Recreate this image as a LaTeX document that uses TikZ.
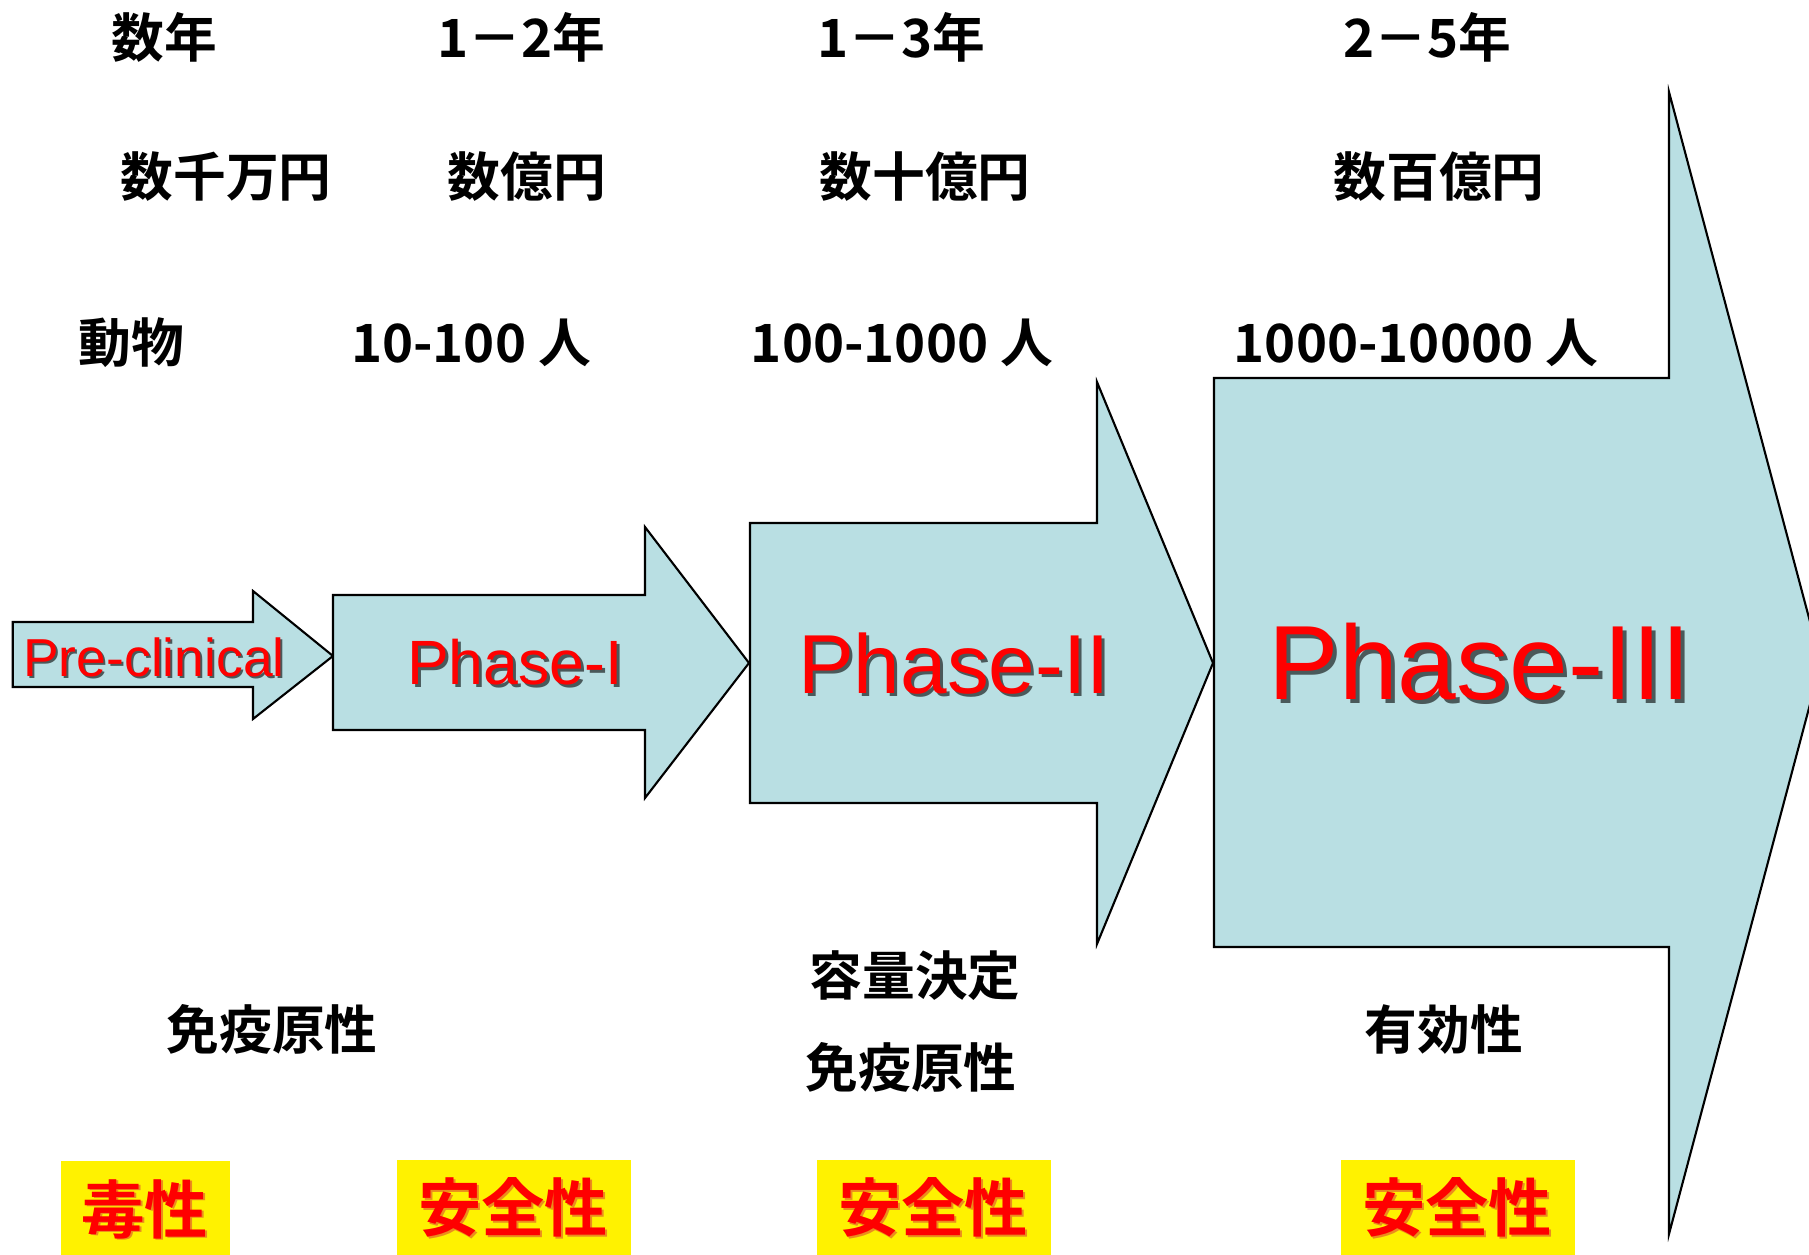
\documentclass[tikz,border=0pt]{standalone}
\usepackage{fontspec}
\newfontfamily\jp{Noto Sans CJK JP}[BoldFont={Noto Sans CJK JP Bold}]
\newfontfamily\lsans{Liberation Sans}
\definecolor{arrfill}{RGB}{185,223,227}
\definecolor{shorange}{RGB}{235,140,30}
\begin{document}
\begin{tikzpicture}[x=0.01cm,y=-0.01cm,
  arr/.style={fill=arrfill,draw=black,line width=0.6pt,line join=miter},
  bt/.style={inner sep=0pt,font=\jp\bfseries\fontsize{15}{18}\selectfont},
  ph/.style={inner sep=0pt,text=red,font=\lsans\fontsize{#1}{#1}\selectfont},
  phs/.style={inner sep=0pt,text=black,opacity=0.6,font=\lsans\fontsize{#1}{#1}\selectfont},
  ybox/.style={fill=yellow,inner sep=0pt,minimum height=0.95cm,minimum width=#1},
  yt/.style={inner sep=0pt,text=red,font=\jp\bfseries\fontsize{18}{20}\selectfont},
  yts/.style={inner sep=0pt,text=shorange,font=\jp\bfseries\fontsize{18}{20}\selectfont}]
\useasboundingbox (0,0) rectangle (1809,1255);
\clip (0,0) rectangle (1809,1255);

% arrows
\draw[arr] (12.7,622) -- (253,622) -- (253,591) -- (333,656) -- (253,719) -- (253,687) -- (12.7,687) -- cycle;
\draw[arr] (333,595) -- (645,595) -- (645,527) -- (749,663) -- (645,798) -- (645,730) -- (333,730) -- cycle;
\draw[arr] (750,523) -- (1097,523) -- (1097,382) -- (1213,663) -- (1097,944) -- (1097,803) -- (750,803) -- cycle;
\draw[arr] (1214,378) -- (1669,378) -- (1669,92) -- (1821,663) -- (1669,1234) -- (1669,947) -- (1214,947) -- cycle;

% phase labels (shadow + text)
\node[phs=15.2] (s0) at (156,659) {Pre-clinical};
\node[ph=15.2] (p0) at (154,657) {Pre-clinical};
\node[phs=17.8] (s1) at (518,665) {Phase-I};
\node[ph=17.8] (p1) at (515,662) {Phase-I};
\node[phs=23.8] (s2) at (957,667) {Phase-II};
\node[ph=23.8] (p2) at (954,664) {Phase-II};
\node[phs=30] (s3) at (1484,666) {Phase-III};
\node[ph=30] (p3) at (1480,662) {Phase-III};

% top rows
\node[bt] (y0) at (164,37) {数年};
\node[bt] (y1) at (521,37) {1－2年};
\node[bt] (y2) at (901,37) {1－3年};
\node[bt] (y3) at (1427,37) {2－5年};

\node[bt] (c0) at (226,177) {数千万円};
\node[bt] (c1) at (527,177) {数億円};
\node[bt] (c2) at (925,177) {数十億円};
\node[bt] (c3) at (1439,177) {数百億円};

\node[bt] (n0) at (131,343) {動物};
\node[bt] (n1) at (471,343) {10-100 人};
\node[bt] (n2) at (902,343) {100-1000 人};
\node[bt] (n3) at (1416,343) {1000-10000 人};

% bottom texts
\node[bt] (b0) at (272,1029) {免疫原性};
\node[bt] (b2a) at (915,976) {容量決定};
\node[bt] (b2b) at (911,1067) {免疫原性};
\node[bt] (b3) at (1444,1030) {有効性};

% yellow boxes
\node[ybox=1.69cm] (k0) at (145.5,1209) {};
\node[ybox=2.34cm] (k1) at (514,1207.5) {};
\node[ybox=2.34cm] (k2) at (934,1207.5) {};
\node[ybox=2.34cm] (k3) at (1458,1207.5) {};
\node[yts] (t0s) at (146.5,1210) {毒性};
\node[yt] (t0) at (144.5,1209) {毒性};
\node[yts] (t1s) at (515,1209) {安全性};
\node[yt] (t1) at (513,1207) {安全性};
\node[yts] (t2s) at (935,1209) {安全性};
\node[yt] (t2) at (933,1207) {安全性};
\node[yts] (t3s) at (1459,1209) {安全性};
\node[yt] (t3) at (1457,1207) {安全性};
\end{tikzpicture}
\end{document}
